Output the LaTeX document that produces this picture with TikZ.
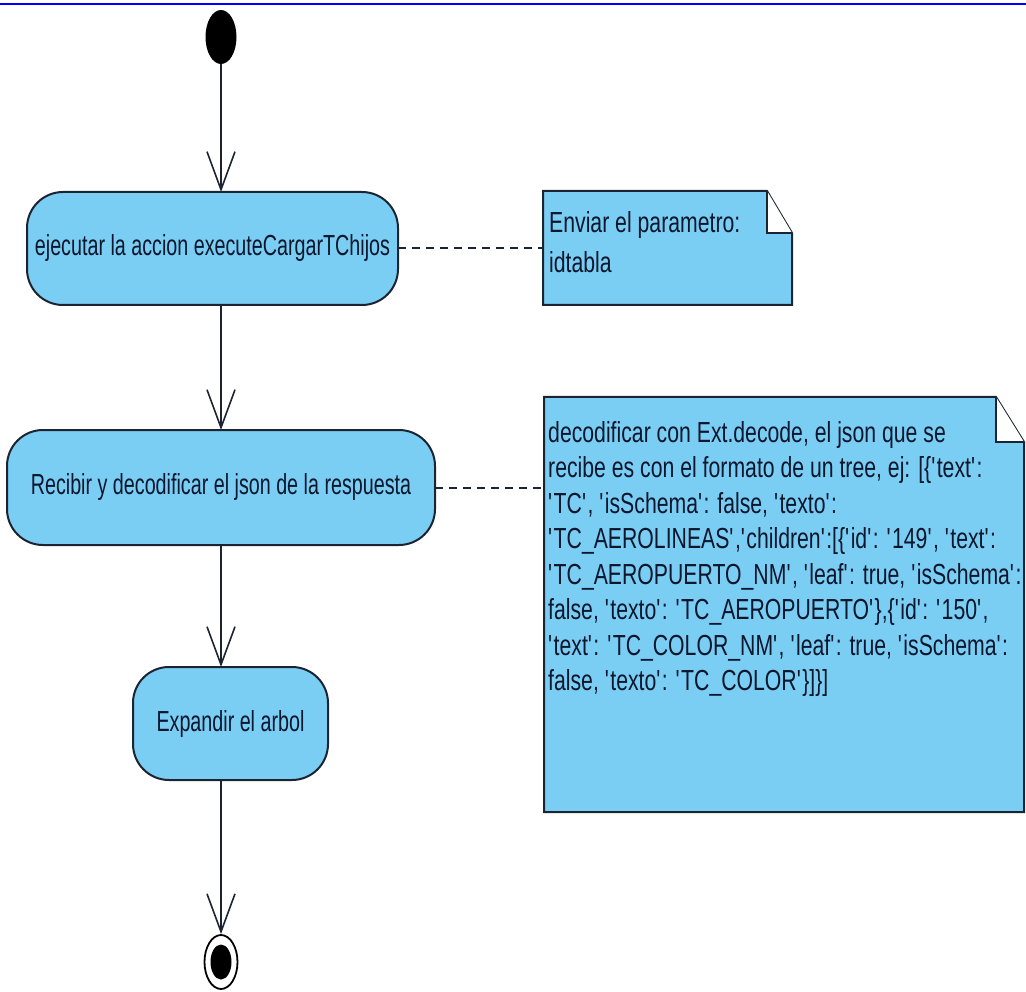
\documentclass[tikz,border=0pt]{standalone}
\usepackage{fontspec}
\usetikzlibrary{arrows.meta,shapes.geometric,calc}
\newfontfamily\actfont[FakeStretch=0.68]{Liberation Sans}
\newfontfamily\notefont[FakeStretch=0.732]{Liberation Sans}
\newcommand\sqt{\textquotesingle}
\definecolor{actfill}{RGB}{122,206,244}
\definecolor{edge}{RGB}{28,36,50}
\definecolor{ink}{RGB}{12,22,44}

\begin{document}
\begin{tikzpicture}[x=1pt,y=-1pt,
  action/.style={draw=edge, fill=actfill, line width=2pt, rounded corners=36pt,
    inner sep=0pt, outer sep=0pt, text=ink, font=\actfont\fontsize{29}{34}\selectfont},
  notearea/.style={inner sep=0pt, outer sep=0pt},
  noteline/.style={draw=edge, line width=2pt, line join=miter},
  notetext/.style={text=ink, font=\notefont\fontsize{29}{35.5}\selectfont,
    align=left, inner sep=0pt, anchor=north west},
  flow/.style={draw=edge, line width=1.6pt,
    -{Straight Barb[length=38pt,width=28pt,line width=1.6pt]}},
  link/.style={draw=edge, line width=2pt, dash pattern=on 8pt off 6pt},
  startdot/.style={ellipse, fill=black, inner sep=0pt, outer sep=0pt}]

\useasboundingbox (0,0) rectangle (1026,992);

% top rule
\draw[blue, line width=2pt] (0,4) -- (1026,4);

% initial node
\node[startdot, minimum width=31pt, minimum height=54pt] (st) at (221,37) {};

% actions
\node[action, minimum width=371pt, minimum height=113pt] (a1) at (212.5,248.5)
  {\raisebox{-3pt}{ejecutar la accion executeCargarTChijos}};
\node[action, minimum width=428pt, minimum height=115pt] (a2) at (221,487.5)
  {\raisebox{-2pt}{Recibir y decodificar el json de la respuesta}};
\node[action, minimum width=195pt, minimum height=113pt] (a3) at (230.5,723.5)
  {\raisebox{-2pt}{Expandir el arbol}};

% final node
\node[ellipse, draw=black, line width=1.8pt, fill=white, inner sep=0pt,
  minimum width=33pt, minimum height=54pt] (fin) at (221,962) {};
\node[startdot, minimum width=21pt, minimum height=35pt] (fincore) at (fin.center) {};

% notes
\node[notearea, minimum width=249pt, minimum height=114pt] (n1) at (667.5,248) {};
\draw[noteline, fill=actfill] (n1.north west) -- ($(n1.north east)+(-25,0)$)
  -- ($(n1.north east)+(0,42)$) -- (n1.south east) -- (n1.south west) -- cycle;
\draw[noteline, fill=white] ($(n1.north east)+(-25,0)$) -- ($(n1.north east)+(-25,42)$)
  -- ($(n1.north east)+(0,42)$);
\node[notetext, font=\notefont\fontsize{29}{40}\selectfont] (n1t)
  at ($(n1.north west)+(6,20)$) {Enviar el parametro:\\idtabla};

\node[notearea, minimum width=480pt, minimum height=415pt] (n2) at (784,604.5) {};
\draw[noteline, fill=actfill] (n2.north west) -- ($(n2.north east)+(-28,0)$)
  -- ($(n2.north east)+(0,45)$) -- (n2.south east) -- (n2.south west) -- cycle;
\draw[noteline, fill=white] ($(n2.north east)+(-28,0)$) -- ($(n2.north east)+(-28,45)$)
  -- ($(n2.north east)+(0,45)$);
\node[notetext] (n2t) at ($(n2.north west)+(4,24)$)
  {decodificar con Ext.decode, el json que se\\
   recibe es con el formato de un tree, ej: [\{\sqt text\sqt:\\
   \sqt TC\sqt, \sqt isSchema\sqt: false, \sqt texto\sqt:\\
   \sqt TC\_AEROLINEAS\sqt,\sqt children\sqt:[\{\sqt id\sqt: \sqt 149\sqt, \sqt text\sqt:\\
   \sqt TC\_AEROPUERTO\_NM\sqt, \sqt leaf\sqt: true, \sqt isSchema\sqt:\\
   false, \sqt texto\sqt: \sqt TC\_AEROPUERTO\sqt\},\{\sqt id\sqt: \sqt 150\sqt,\\
   \sqt text\sqt: \sqt TC\_COLOR\_NM\sqt, \sqt leaf\sqt: true, \sqt isSchema\sqt:\\
   false, \sqt texto\sqt: \sqt TC\_COLOR\sqt\}]\}]};

% control flow
\draw[flow] (st.south) -- (st |- a1.north);
\draw[flow] (st |- a1.south) -- (st |- a2.north);
\draw[flow] (st |- a2.south) -- (st |- a3.north);
\draw[flow] (st |- a3.south) -- (fin.north);

% note attachments
\draw[link] (a1.east) -- (a1.east -| n1.west);
\draw[link] (a2.east) -- (a2.east -| n2.west);
\end{tikzpicture}
\end{document}
